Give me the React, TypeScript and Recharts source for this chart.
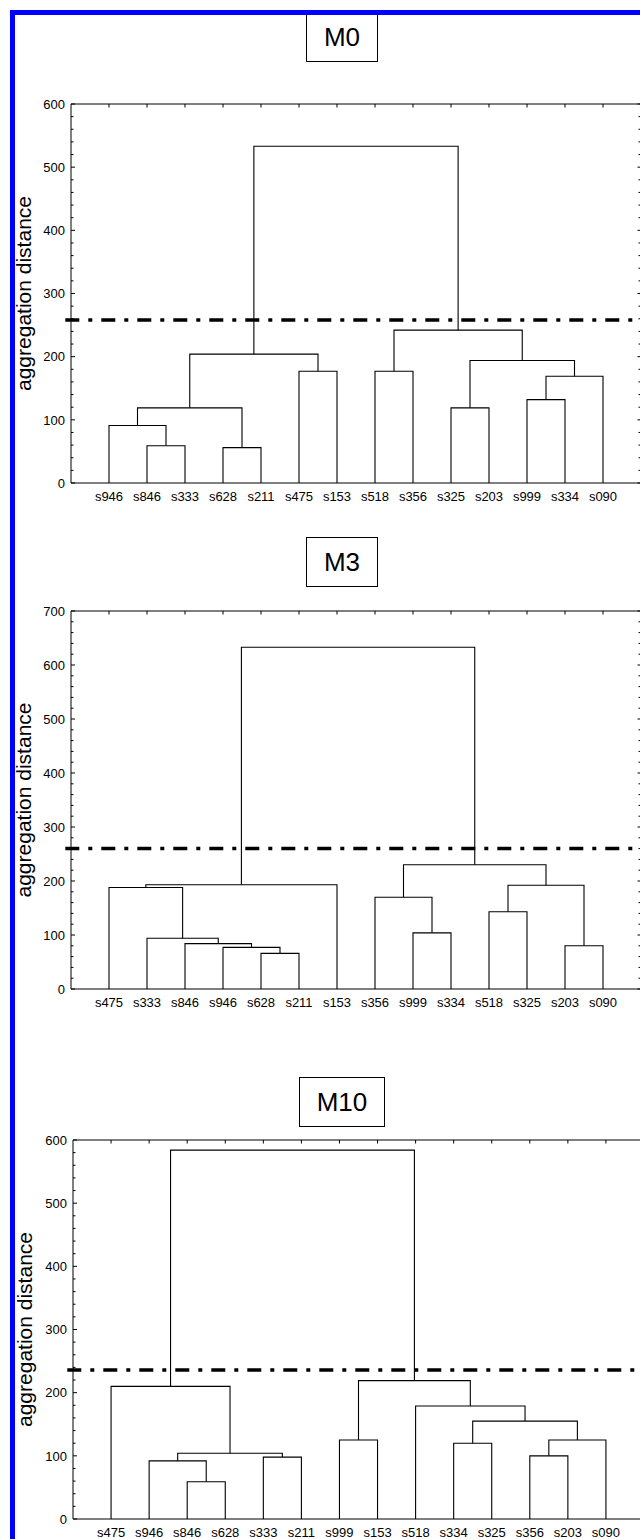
import React from 'react';
import { LineChart, Line, XAxis, YAxis, ReferenceLine } from 'recharts';

const FONT = '"Liberation Sans", Arial, Helvetica, sans-serif';

type Merge = [string, string, string, number];

// ---------- M0 ----------
const m0Leaves = ['s946', 's846', 's333', 's628', 's211', 's475', 's153', 's518', 's356', 's325', 's203', 's999', 's334', 's090'];
const m0Merges: Merge[] = [
  ['a', 's846', 's333', 59],
  ['b', 's946', 'a', 91],
  ['c', 's628', 's211', 56],
  ['d', 'b', 'c', 119],
  ['e', 's475', 's153', 177],
  ['f', 'd', 'e', 204],
  ['g', 's518', 's356', 177],
  ['h', 's325', 's203', 119],
  ['i', 's999', 's334', 132],
  ['j', 'i', 's090', 169],
  ['k', 'h', 'j', 194],
  ['l', 'g', 'k', 242],
  ['root', 'f', 'l', 533],
];
const m0Cut = 258;
const m0YMax = 600;

// ---------- M3 ----------
const m3Leaves = ['s475', 's333', 's846', 's946', 's628', 's211', 's153', 's356', 's999', 's334', 's518', 's325', 's203', 's090'];
const m3Merges: Merge[] = [
  ['a', 's628', 's211', 66],
  ['b', 's946', 'a', 77],
  ['c', 's846', 'b', 84],
  ['d', 's333', 'c', 94],
  ['e', 's475', 'd', 188],
  ['f', 'e', 's153', 193],
  ['g', 's999', 's334', 104],
  ['h', 's356', 'g', 170],
  ['i', 's518', 's325', 143],
  ['j', 's203', 's090', 80],
  ['k', 'i', 'j', 192],
  ['l', 'h', 'k', 230],
  ['root', 'f', 'l', 633],
];
const m3Cut = 260;
const m3YMax = 700;

// ---------- M10 ----------
const m10Leaves = ['s475', 's946', 's846', 's628', 's333', 's211', 's999', 's153', 's518', 's334', 's325', 's356', 's203', 's090'];
const m10Merges: Merge[] = [
  ['a', 's846', 's628', 59],
  ['b', 's946', 'a', 92],
  ['c', 's333', 's211', 98],
  ['d', 'b', 'c', 104],
  ['e', 's475', 'd', 210],
  ['f', 's999', 's153', 125],
  ['g', 's334', 's325', 120],
  ['h', 's356', 's203', 100],
  ['i', 'h', 's090', 125],
  ['j', 'g', 'i', 155],
  ['k', 's518', 'j', 179],
  ['l', 'f', 'k', 219],
  ['root', 'e', 'l', 584],
];
const m10Cut = 236;
const m10YMax = 600;

const yLabel = 'aggregation distance';
const cutLineStart = -0.15;

function range(a: number, b: number, step: number): number[] {
  const out: number[] = [];
  for (let v = a; v <= b + 1e-9; v += step) out.push(v);
  return out;
}

function buildLinks(leaves: string[], merges: Merge[]) {
  const pos: Record<string, number> = {};
  const hgt: Record<string, number> = {};
  leaves.forEach((l, i) => {
    pos[l] = i + 1;
    hgt[l] = 0;
  });
  return merges.map(([id, a, b, h]) => {
    pos[id] = (pos[a] + pos[b]) / 2;
    hgt[id] = h;
    return {
      id,
      data: [
        { x: pos[a], y: hgt[a] },
        { x: pos[a], y: h },
        { x: pos[b], y: h },
        { x: pos[b], y: hgt[b] },
      ],
    };
  });
}

const LeftTick = (props: any) => {
  const { x, y, payload } = props;
  const v = payload.value;
  const major = v % 100 === 0;
  return (
    <g>
      <line x1={x} y1={y} x2={x + (major ? 4 : 2.5)} y2={y} stroke="#000" strokeWidth={1} />
      {major && (
        <text x={x - 6} y={y} dy="0.36em" textAnchor="end" fontSize={13} fill="#000" fontFamily={FONT}>
          {v}
        </text>
      )}
    </g>
  );
};

const RightTick = (props: any) => {
  const { x, y, payload } = props;
  const v = payload.value;
  const major = v % 100 === 0;
  return <line x1={x} y1={y} x2={x - (major ? 3.5 : 2.5)} y2={y} stroke="#000" strokeWidth={1} />;
};

const TopTick = (props: any) => {
  const { x, y } = props;
  return <line x1={x} y1={y} x2={x} y2={y + 3.5} stroke="#000" strokeWidth={1} />;
};

type PanelProps = {
  leaves: string[];
  merges: Merge[];
  cut: number;
  yMax: number;
  chartTop: number;
  plotTop: number;
  plotBottom: number;
  plotLeft: number;
  plotRight: number;
  labelX: number;
};

function Dendrogram(p: PanelProps) {
  const links = buildLinks(p.leaves, p.merges);
  const leafTicks = p.leaves.map((_, i) => i + 1);
  const minor = range(0, p.yMax, 20);
  const chartHeight = p.plotBottom + 40 - p.chartTop;
  const chartWidth = p.plotRight + 1;
  return (
    <div style={{ position: 'absolute', left: 0, top: p.chartTop }}>
      <LineChart
        width={chartWidth}
        height={chartHeight}
        margin={{ top: p.plotTop - p.chartTop - 1, right: 0, bottom: 10, left: 0 }}
      >
        <XAxis
          xAxisId="b"
          type="number"
          dataKey="x"
          domain={[0, p.leaves.length + 1]}
          ticks={leafTicks}
          interval={0}
          allowDataOverflow
          tickFormatter={(v: number) => p.leaves[v - 1] ?? ''}
          tickLine={false}
          tickSize={0}
          tickMargin={9}
          height={30}
          axisLine={{ stroke: '#000', strokeWidth: 1 }}
          tick={{ fontSize: 13, fill: '#000', fontFamily: FONT }}
        />
        <XAxis
          xAxisId="t"
          orientation="top"
          type="number"
          dataKey="x"
          domain={[0, p.leaves.length + 1]}
          ticks={leafTicks}
          interval={0}
          allowDataOverflow
          height={1}
          tickLine={false}
          tickSize={0}
          tickMargin={0}
          tick={(tp: any) => <TopTick {...tp} />}
          axisLine={{ stroke: '#000', strokeWidth: 1 }}
        />
        <YAxis
          yAxisId="l"
          type="number"
          domain={[0, p.yMax]}
          ticks={minor}
          interval={0}
          allowDataOverflow
          width={p.plotLeft}
          tickLine={false}
          tickSize={0}
          tickMargin={0}
          tick={(tp: any) => <LeftTick {...tp} />}
          axisLine={{ stroke: '#000', strokeWidth: 1 }}
          label={{
            value: yLabel,
            angle: -90,
            position: 'insideLeft',
            offset: p.labelX,
            style: { textAnchor: 'middle', fontSize: 21, fill: '#000', fontFamily: FONT },
          }}
        />
        <YAxis
          yAxisId="r"
          orientation="right"
          type="number"
          domain={[0, p.yMax]}
          ticks={minor}
          interval={0}
          allowDataOverflow
          width={1}
          tickLine={false}
          tickSize={0}
          tickMargin={0}
          tick={(tp: any) => <RightTick {...tp} />}
          axisLine={{ stroke: '#000', strokeWidth: 1 }}
        />
        {links.map((l) => (
          <Line
            key={l.id}
            xAxisId="b"
            yAxisId="l"
            data={l.data}
            dataKey="y"
            type="linear"
            stroke="#000"
            strokeWidth={1.1}
            dot={false}
            activeDot={false}
            isAnimationActive={false}
          />
        ))}
        <ReferenceLine
          xAxisId="b"
          yAxisId="l"
          segment={[
            { x: cutLineStart, y: p.cut },
            { x: p.leaves.length + 1, y: p.cut },
          ]}
          ifOverflow="visible"
          stroke="#000"
          strokeWidth={3.5}
          strokeDasharray="14 9 4 9"
        />
      </LineChart>
    </div>
  );
}

function TitleBox(props: { text: string; left: number; top: number; width: number; height: number }) {
  return (
    <div
      style={{
        position: 'absolute',
        left: props.left,
        top: props.top,
        width: props.width,
        height: props.height,
        boxSizing: 'border-box',
        border: '1.5px solid #000',
        background: '#fff',
        display: 'flex',
        alignItems: 'center',
        justifyContent: 'center',
        fontFamily: FONT,
        fontSize: 26,
        color: '#000',
        lineHeight: 1,
      }}
    >
      {props.text}
    </div>
  );
}

export default function App() {
  return (
    <div
      style={{
        position: 'absolute',
        left: 0,
        top: 0,
        width: 640,
        height: 1539,
        overflow: 'hidden',
        background: '#fff',
      }}
    >
      <Dendrogram
        leaves={m0Leaves}
        merges={m0Merges}
        cut={m0Cut}
        yMax={m0YMax}
        chartTop={64}
        plotTop={104}
        plotBottom={483}
        plotLeft={71}
        plotRight={641}
        labelX={24}
      />
      <Dendrogram
        leaves={m3Leaves}
        merges={m3Merges}
        cut={m3Cut}
        yMax={m3YMax}
        chartTop={592}
        plotTop={611}
        plotBottom={989}
        plotLeft={71}
        plotRight={641}
        labelX={24}
      />
      <Dendrogram
        leaves={m10Leaves}
        merges={m10Merges}
        cut={m10Cut}
        yMax={m10YMax}
        chartTop={1128}
        plotTop={1140}
        plotBottom={1519}
        plotLeft={73}
        plotRight={644}
        labelX={25}
      />
      <TitleBox text="M0" left={306} top={11} width={72} height={51} />
      <TitleBox text="M3" left={306} top={537} width={72} height={50} />
      <TitleBox text="M10" left={299} top={1077} width={86} height={50} />
      <div
        style={{
          position: 'absolute',
          left: 10,
          top: 10,
          width: 700,
          height: 1600,
          borderLeft: '5px solid #0000ff',
          borderTop: '5px solid #0000ff',
          boxSizing: 'border-box',
          pointerEvents: 'none',
        }}
      />
    </div>
  );
}
